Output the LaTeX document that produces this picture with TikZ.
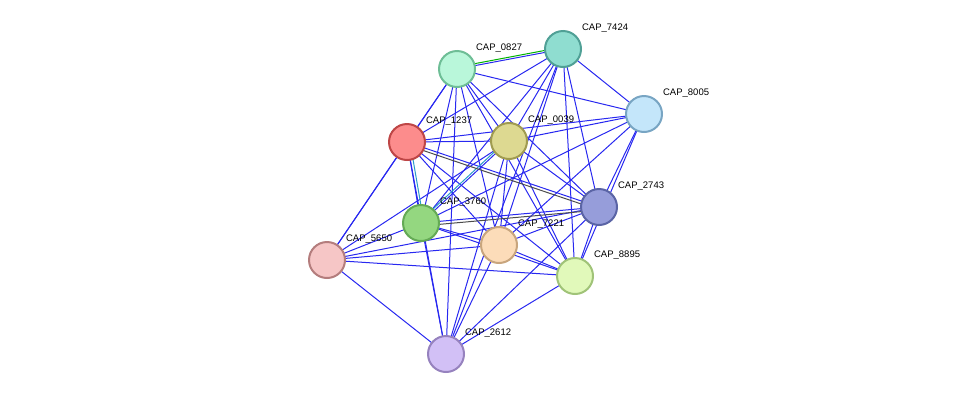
\documentclass[tikz,border=0pt]{standalone}
\usepackage{fontspec}
\setmainfont{Liberation Sans}
\tikzset{every picture/.style={line width=0.75pt}}
\tikzset{
  prot/.style={circle, minimum size=36pt, inner sep=0pt, line width=2pt},
  plab/.style={anchor=west, inner sep=0.75pt, font=\fontsize{9.5pt}{11pt}\selectfont},
  lnk/.style={draw={rgb,255:red,40;green,40;blue,240}, line width=1pt},
}
\begin{document}
\begin{tikzpicture}[x=1pt,y=1pt,yscale=-1,xscale=1]
\useasboundingbox (0,0) rectangle (976,400);

% Edges
\coordinate (c0827) at (457,69);
\coordinate (c7424) at (563,49);
\coordinate (c8005) at (644,114);
\coordinate (c1237) at (407,142);
\coordinate (c0039) at (509,141);
\coordinate (c2743) at (599,207);
\coordinate (c3760) at (421,223);
\coordinate (c7221) at (499,245);
\coordinate (c5650) at (327,260);
\coordinate (c8895) at (575,276);
\coordinate (c2612) at (446,354);

\foreach \a/\b in {0827/7424,0827/8005,0827/1237,0827/0039,0827/2743,0827/3760,0827/7221,0827/5650,0827/8895,0827/2612,
  7424/8005,7424/1237,7424/0039,7424/2743,7424/3760,7424/7221,7424/8895,7424/2612,
  8005/1237,8005/0039,8005/2743,8005/3760,8005/7221,8005/8895,
  1237/0039,1237/2743,1237/3760,1237/7221,1237/5650,1237/8895,1237/2612,
  0039/2743,0039/3760,0039/7221,0039/5650,0039/8895,0039/2612,
  2743/3760,2743/7221,2743/5650,2743/8895,2743/2612,
  3760/7221,3760/5650,3760/8895,3760/2612,
  7221/5650,7221/8895,7221/2612,
  5650/8895,5650/2612,8895/2612}
  \draw[lnk] (c\a) -- (c\b);
\draw[green!70!black, line width=1pt] ([yshift=-2pt]c0827) -- ([yshift=-2pt]c7424);
\draw[cyan!80!black, line width=1pt] ([xshift=3pt]c1237) -- ([xshift=3pt]c3760);
\draw[cyan!80!black, line width=1pt] ([xshift=-3pt]c0039) -- ([xshift=-3pt]c3760);
\draw[black!70, line width=1pt] ([yshift=3pt]c1237) -- ([yshift=3pt]c2743);
\draw[black!70, line width=1pt] ([yshift=3pt]c3760) -- ([yshift=3pt]c2743);

% Proteins
\node[prot, draw={rgb,255:red,110;green,190;blue,150}, fill={rgb,255:red,185;green,247;blue,218}] (n0827) at (c0827) {};
\node[prot, draw={rgb,255:red,80;green,160;blue,150}, fill={rgb,255:red,143;green,221;blue,208}] (n7424) at (c7424) {};
\node[prot, draw={rgb,255:red,120;green,165;blue,195}, fill={rgb,255:red,196;green,230;blue,250}] (n8005) at (c8005) {};
\node[prot, draw={rgb,255:red,190;green,70;blue,70}, fill={rgb,255:red,252;green,140;blue,140}] (n1237) at (c1237) {};
\node[prot, draw={rgb,255:red,160;green,155;blue,80}, fill={rgb,255:red,221;green,217;blue,145}] (n0039) at (c0039) {};
\node[prot, draw={rgb,255:red,90;green,100;blue,165}, fill={rgb,255:red,150;green,157;blue,218}] (n2743) at (c2743) {};
\node[prot, draw={rgb,255:red,100;green,170;blue,85}, fill={rgb,255:red,148;green,215;blue,128}] (n3760) at (c3760) {};
\node[prot, draw={rgb,255:red,200;green,165;blue,125}, fill={rgb,255:red,252;green,220;blue,185}] (n7221) at (c7221) {};
\node[prot, draw={rgb,255:red,180;green,125;blue,125}, fill={rgb,255:red,246;green,198;blue,198}] (n5650) at (c5650) {};
\node[prot, draw={rgb,255:red,160;green,195;blue,120}, fill={rgb,255:red,225;green,249;blue,186}] (n8895) at (c8895) {};
\node[prot, draw={rgb,255:red,150;green,130;blue,190}, fill={rgb,255:red,210;green,192;blue,246}] (n2612) at (c2612) {};

% Labels
\foreach \n in {0827,7424,8005,1237,0039,2743,3760,7221,5650,8895,2612}
  \node[plab] (l\n) at ([xshift=18pt,yshift=-21pt]c\n) {CAP\_\n};

\end{tikzpicture}
\end{document}
